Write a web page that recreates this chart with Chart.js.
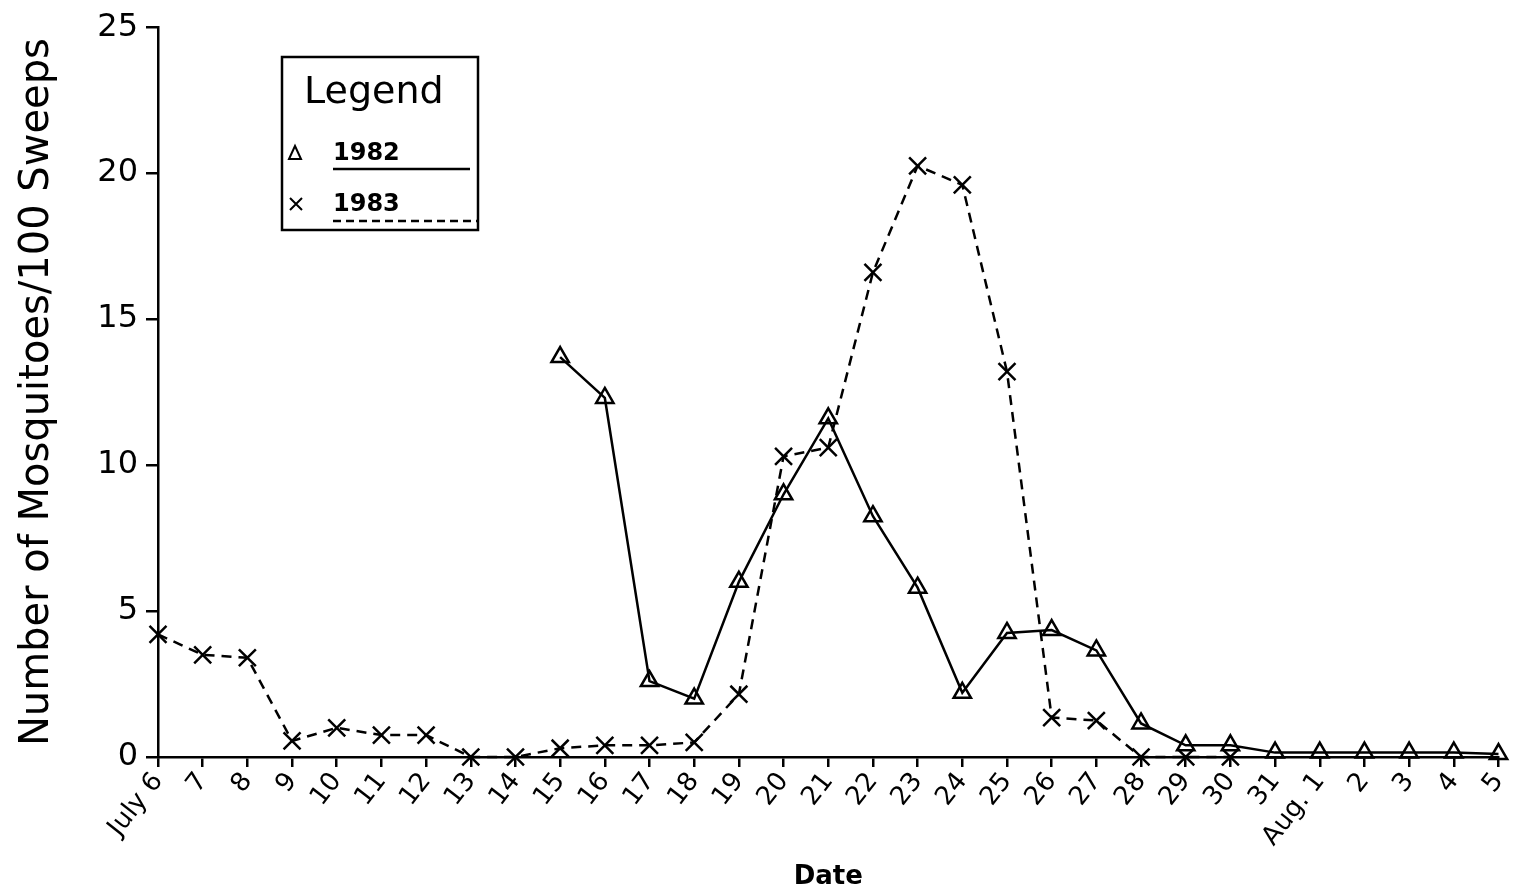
<!DOCTYPE html>
<html>
<head>
<meta charset="utf-8">
<script src="https://cdn.jsdelivr.net/npm/chart.js@4"></script>
<style>
  html, body { margin: 0; padding: 0; background: #fff; }
  #wrap { width: 1513px; height: 893px; position: relative; }
</style>
</head>
<body>
<div id="wrap"><canvas id="myChart" width="1513" height="893"></canvas></div>
<script>
// Datos
const dates = ['July 6', '7', '8', '9', '10', '11', '12', '13', '14', '15', '16', '17', '18', '19', '20',
    '21', '22', '23', '24', '25', '26', '27', '28', '29', '30', '31', 'Aug. 1', '2', '3', '4', '5'];

const counts1982 = [null, null, null, null, null, null, null, null, null,
    13.7, 12.3, 2.6, 2.0, 6.0, 9.0, 11.6, 8.25, 5.8, 2.2, 4.25, 4.35, 3.65, 1.15, 0.4, 0.4,
    0.15, 0.15, 0.15, 0.15, 0.15, 0.1];

const counts1983 = [4.2, 3.5, 3.4, 0.55, 1.0, 0.75, 0.75, 0, 0, 0.3, 0.4, 0.4, 0.5, 2.15, 10.3,
    10.6, 16.6, 20.25, 19.6, 13.2, 1.35, 1.25, 0, 0, 0,
    null, null, null, null, null, null];

const yTicks = [0, 5, 10, 15, 20, 25];

const FONT = '"DejaVu Sans", sans-serif';

// Leyenda dibujada a mano dentro del área
const boxLegend = {
    id: 'boxLegend',
    afterDraw(chart) {
        const c = chart.ctx;
        c.save();
        c.strokeStyle = '#000';
        c.fillStyle = '#000';
        c.lineWidth = 2.5;
        c.strokeRect(282, 57, 196, 173);

        c.font = '38px ' + FONT;
        c.textBaseline = 'middle';
        c.textAlign = 'left';
        c.fillText('Legend', 304, 93);

        c.font = 'bold 24px ' + FONT;
        c.fillText('1982', 333, 154);
        c.fillText('1983', 333, 205);

        // triángulo
        c.lineWidth = 2;
        c.beginPath();
        c.moveTo(295, 146);
        c.lineTo(301, 159);
        c.lineTo(289, 159);
        c.closePath();
        c.stroke();
        // cruz
        c.beginPath();
        c.moveTo(290, 198); c.lineTo(302, 210);
        c.moveTo(302, 198); c.lineTo(290, 210);
        c.stroke();

        // líneas de muestra
        c.lineWidth = 2.5;
        c.beginPath();
        c.moveTo(333, 169); c.lineTo(470, 169);
        c.stroke();
        c.setLineDash([8, 5]);
        c.beginPath();
        c.moveTo(333, 221); c.lineTo(478, 221);
        c.stroke();
        c.restore();
    }
};

const ctx = document.getElementById('myChart').getContext('2d');
const myChart = new Chart(ctx, {
    type: 'line',
    data: {
        labels: dates,
        datasets: [{
            label: '1982',
            data: counts1982,
            borderColor: '#000',
            borderWidth: 2.5,
            pointStyle: 'triangle',
            pointRadius: 10,
            pointBorderWidth: 2.5,
            pointBackgroundColor: 'rgba(255,255,255,0)',
            pointBorderColor: '#000',
            tension: 0,
            spanGaps: false,
            clip: false
        }, {
            label: '1983',
            data: counts1983,
            borderColor: '#000',
            borderWidth: 2.5,
            borderDash: [10, 7],
            pointStyle: 'crossRot',
            pointRadius: 12,
            pointBorderWidth: 2.5,
            pointBorderColor: '#000',
            tension: 0,
            spanGaps: false,
            clip: false
        }]
    },
    options: {
        responsive: false,
        animation: false,
        layout: { padding: { top: 25, right: 6, left: 0, bottom: 0 } },
        scales: {
            x: {
                offset: false,
                border: { display: true, color: '#000', width: 2.5 },
                grid: { display: true, drawOnChartArea: false, drawTicks: true, tickLength: 10, color: '#000', lineWidth: 2.5 },
                ticks: {
                    color: '#000',
                    font: { family: FONT, size: 26 },
                    minRotation: 52,
                    maxRotation: 52,
                    autoSkip: false,
                    padding: 0
                },
                title: {
                    display: true,
                    text: 'Date',
                    color: '#000',
                    font: { family: FONT, size: 26, weight: 'bold' },
                    padding: { top: 0, bottom: 0 }
                },
                afterFit(scale) {
                    scale.height = 136;
                    scale.paddingLeft = 0;
                    scale.paddingRight = 0;
                }
            },
            y: {
                min: 0,
                max: 25,
                border: { display: true, color: '#000', width: 2.5 },
                grid: { display: true, drawOnChartArea: false, drawTicks: true, tickLength: 12, color: '#000', lineWidth: 2.5 },
                afterBuildTicks(scale) { scale.ticks = yTicks.map(v => ({ value: v })); },
                ticks: {
                    color: '#000',
                    font: { family: FONT, size: 32 },
                    padding: 8
                },
                title: {
                    display: true,
                    text: 'Number of Mosquitoes/100 Sweeps',
                    color: '#000',
                    font: { family: FONT, size: 40 },
                    padding: { top: 14, bottom: 0 }
                },
                afterFit(scale) { scale.width = 158; }
            }
        },
        plugins: {
            legend: { display: false },
            tooltip: { enabled: false }
        }
    },
    plugins: [boxLegend]
});
</script>
</body>
</html>
